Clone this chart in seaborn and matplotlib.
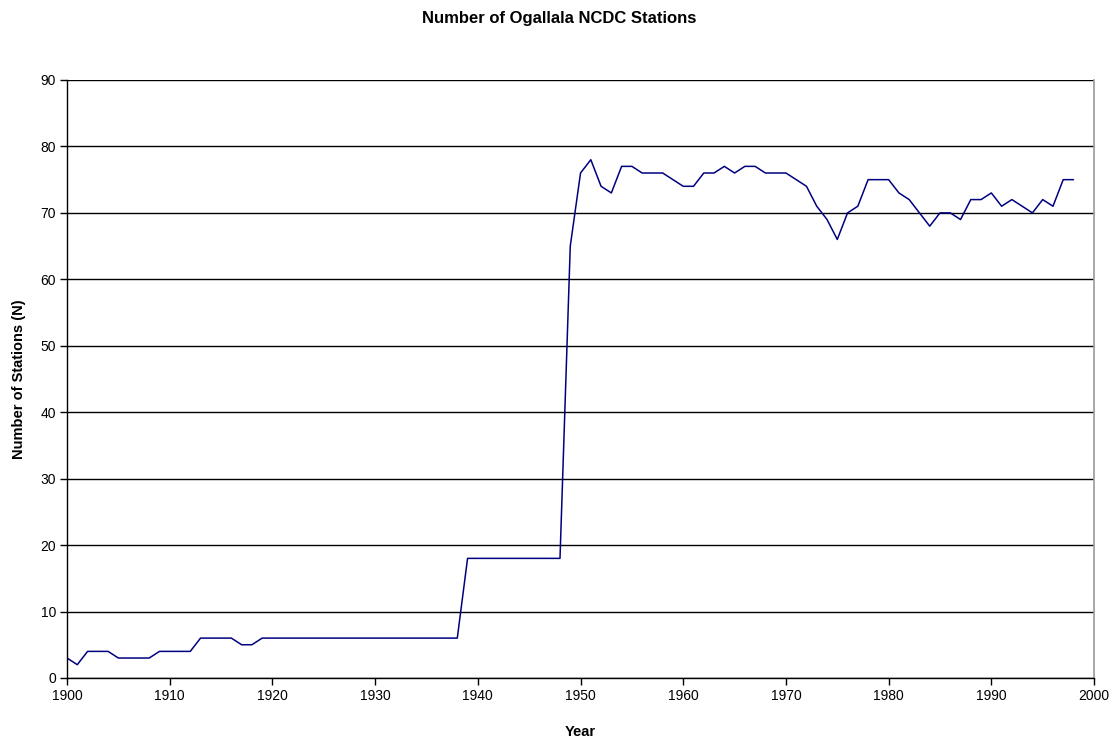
import numpy as np
import pandas as pd
import matplotlib
matplotlib.use("Agg")
import matplotlib.pyplot as plt
import seaborn as sns

# Datos
years = list(range(1900, 1999))
stations = (
    [3, 2, 4, 4, 4, 3, 3, 3, 3, 4, 4, 4, 4, 6, 6, 6, 6, 5, 5]   # 1900-1918
    + [6] * 20                                                    # 1919-1938
    + [18] * 10                                                   # 1939-1948
    + [65, 76, 78, 74, 73, 77, 77, 76, 76, 76, 75, 74, 74, 76, 76, 77, 76,
       77, 77, 76, 76, 76, 75, 74, 71, 69, 66, 70, 71, 75, 75, 75, 73, 72,
       70, 68, 70, 70, 69, 72, 72, 73, 71, 72, 71, 70, 72, 71, 75, 75]  # 1949-1998
)
x_ticks = list(range(1900, 2001, 10))
y_ticks = list(range(0, 91, 10))

df = pd.DataFrame({"Year": years, "Stations": stations})

sns.set_style("white")
plt.rcParams['font.family'] = ['Liberation Sans', 'DejaVu Sans']
plt.rcParams['text.color'] = 'black'
plt.rcParams['axes.labelcolor'] = 'black'
plt.rcParams['xtick.color'] = 'black'
plt.rcParams['ytick.color'] = 'black'

fig = plt.figure(figsize=(11.19, 7.42), dpi=100)
ax = fig.add_axes([0.0599, 0.0863, 0.9178, 0.8059])

sns.lineplot(data=df, x="Year", y="Stations", color="#000080", linewidth=1.1, ax=ax)

ax.set_xlim(1900, 2000)
ax.set_ylim(0, 90)
ax.set_xticks(x_ticks)
ax.set_yticks(y_ticks)
ax.yaxis.grid(True, color="black", linewidth=1)
ax.xaxis.grid(False)
ax.set_axisbelow(True)

for side in ["left", "bottom"]:
    ax.spines[side].set_color("black")
    ax.spines[side].set_linewidth(1)
ax.spines["top"].set_visible(False)
ax.spines["right"].set_color("#999999")
ax.spines["right"].set_linewidth(1.2)

ax.tick_params(axis="both", direction="out", length=5, width=1, color="black",
               labelcolor="black", labelsize=10, bottom=True, left=True, pad=3)

ax.set_xlabel("Year", fontsize=10.5, fontweight="bold", labelpad=16, color="black")
ax.set_ylabel("Number of Stations (N)", fontsize=10.5, fontweight="bold", labelpad=10,
              color="black")
fig.suptitle("Number of Ogallala NCDC Stations", fontsize=12, fontweight="bold",
             y=0.985, color="black")

fig.savefig("out.png", dpi=100)
